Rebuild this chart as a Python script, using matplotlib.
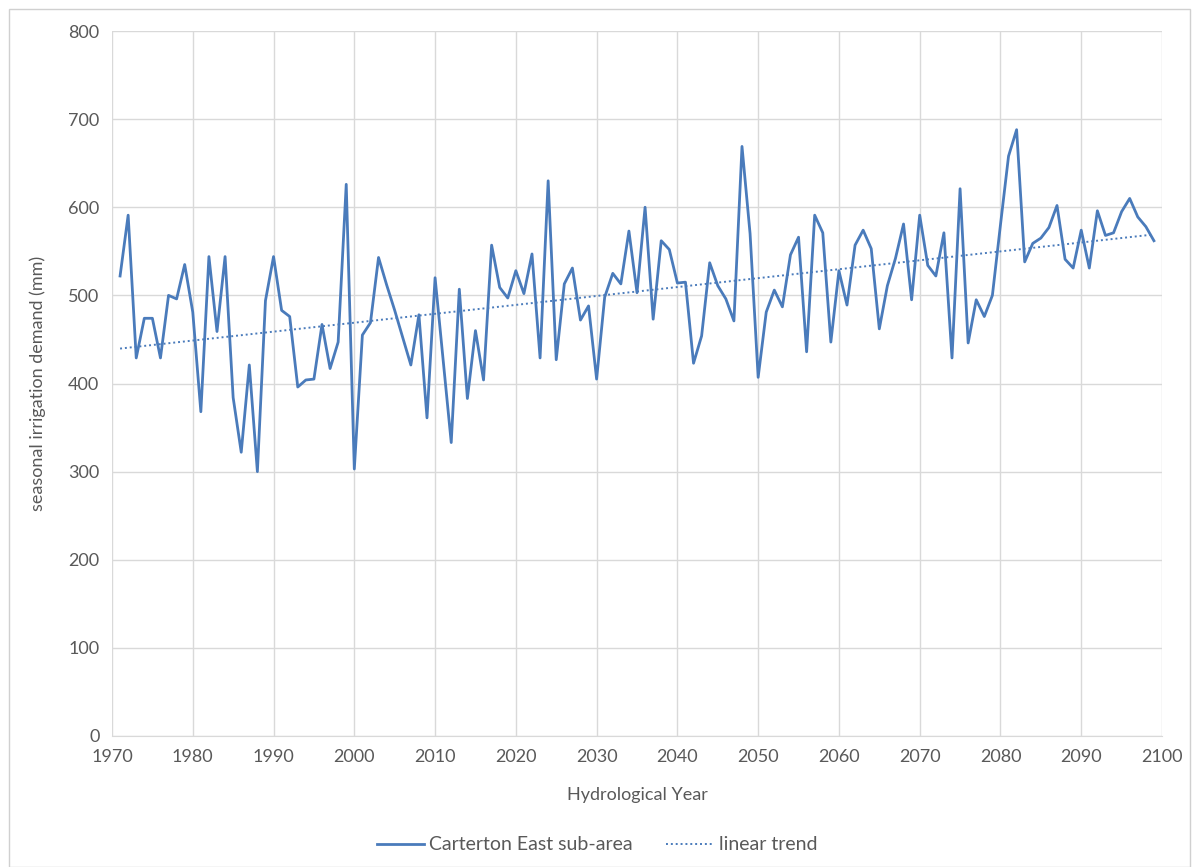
import matplotlib
matplotlib.use("Agg")
import matplotlib.pyplot as plt
import numpy as np
from matplotlib.patches import Rectangle

years = list(range(1971, 2100))
demand = [
    522, 591, 429, 474, 474, 429, 500, 496, 535, 481,   # 1971-1980
    368, 544, 459, 544, 384, 322, 421, 300, 494, 544,   # 1981-1990
    483, 476, 396, 404, 405, 467, 417, 447, 626, 303,   # 1991-2000
    455, 469, 543, 512, 483, 452, 421, 478, 361, 520,   # 2001-2010
    427, 333, 507, 383, 460, 404, 557, 509, 497, 528,   # 2011-2020
    502, 547, 429, 630, 427, 513, 531, 472, 488, 405,   # 2021-2030
    498, 525, 513, 573, 503, 600, 473, 562, 552, 514,   # 2031-2040
    515, 423, 454, 537, 511, 496, 471, 669, 570, 407,   # 2041-2050
    481, 506, 487, 546, 566, 436, 591, 571, 447, 528,   # 2051-2060
    489, 557, 574, 553, 462, 511, 542, 581, 495, 591,   # 2061-2070
    534, 522, 571, 429, 621, 446, 495, 476, 500, 580,   # 2071-2080
    658, 688, 538, 559, 565, 577, 602, 541, 531, 574,   # 2081-2090
    531, 596, 568, 571, 595, 610, 589, 578, 562,        # 2091-2099
]
x_ticks = list(range(1970, 2101, 10))
y_ticks = list(range(0, 801, 100))
series_label = "Carterton East sub-area"
trend_label = "linear trend"
x_title = "Hydrological Year"
y_title = "seasonal irrigation demand (mm)"

plt.rcParams['font.family'] = ['Lato', 'DejaVu Sans']

fig = plt.figure(figsize=(11.94, 8.67), dpi=100)
ax = fig.add_axes([112/1194, 1 - 736/867, (1162 - 112)/1194, (736 - 31)/867])

line_color = '#4a7bbb'
x = np.array(years)
y = np.array(demand)
coef = np.polyfit(x, y, 1)
trend = np.polyval(coef, x)

ax.plot(x, y, color=line_color, lw=2.0, label=series_label, zorder=3)
ax.plot(x, trend, color=line_color, lw=1.4, ls=(0, (1, 1.5)), label=trend_label, zorder=2)

ax.set_xlim(1970, 2100)
ax.set_ylim(0, 800)
ax.set_xticks(x_ticks)
ax.set_yticks(y_ticks)
ax.grid(True, color='#d9d9d9', lw=1.0)
ax.set_axisbelow(True)
for s in ['top', 'right', 'left']:
    ax.spines[s].set_visible(False)
ax.spines['bottom'].set_color('#d9d9d9')
ax.tick_params(length=0, labelsize=13, colors='#595959', pad=9)
ax.set_xlabel(x_title, fontsize=13, color='#595959', labelpad=16)
ax.set_ylabel(y_title, fontsize=13, color='#595959', labelpad=16)

fig.legend(loc='center', bbox_to_anchor=(0.5, 1 - 845/867), ncol=2, frameon=False,
           fontsize=14, labelcolor='#595959', handlelength=2.4, handletextpad=0.3,
           columnspacing=1.7)

fig.patches.append(Rectangle((9/1194, 0), (1190 - 9)/1194, 1 - 9/867, transform=fig.transFigure,
                             fill=False, edgecolor='#d0d0d0', lw=1.0))

fig.savefig('out.png', dpi=100, facecolor='white')
